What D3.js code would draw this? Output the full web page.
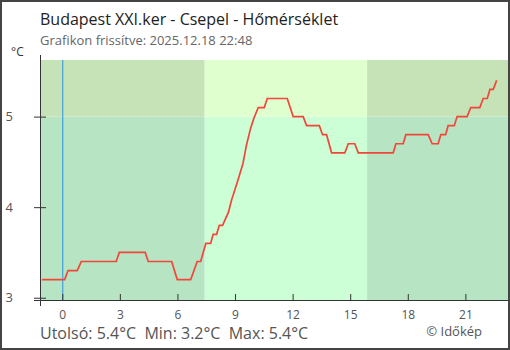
<!DOCTYPE html>
<html><head><meta charset="utf-8">
<script src="https://cdn.jsdelivr.net/npm/d3@7"></script>
<style>body{margin:0;background:#fff}svg{display:block}text{font-family:"Open Sans",sans-serif}</style>
</head><body>
<svg id="c" width="510" height="350"></svg>
<script>
const title = "Budapest XXI.ker - Csepel - Hőmérséklet";
const subtitle = "Grafikon frissítve: 2025.12.18 22:48";
const footer = "Utolsó: 5.4°C  Min: 3.2°C  Max: 5.4°C";
const credit = "© Időkép";
const unit = "°C";
const xTicks = [0, 3, 6, 9, 12, 15, 18, 21];
const yTicks = [3, 4, 5];
const xDomain = [-1.16, 23.22];
const yDomain = [2.975, 5.625];
const threshold = 5;
const midnight = 0;
// night / day bands (hours)
const bandStarts = [-1.16, 7.42, 15.88];
const bandEnds = [7.42, 15.88, 23.22];
const bandTypes = ["night", "day", "night"];
// temperature (hours since midnight, °C)
const hours = [-1.06,0.125,0.30,0.78,0.99,2.81,2.97,4.32,4.48,5.70,5.99,6.69,7.03,7.21,7.48,7.73,7.86,8.04,8.18,8.35,8.65,8.82,9.11,9.41,9.60,9.81,9.98,10.21,10.52,10.68,11.72,12.03,12.55,12.73,13.39,13.56,13.77,14.03,14.72,14.90,15.24,15.42,17.24,17.38,17.76,17.90,19.06,19.27,19.58,19.72,19.97,20.10,20.42,20.57,21.09,21.28,21.75,21.93,22.14,22.28,22.45,22.63];
const temps = [3.2,3.2,3.3,3.3,3.4,3.4,3.5,3.5,3.4,3.4,3.2,3.2,3.4,3.4,3.6,3.6,3.7,3.7,3.8,3.8,3.94,4.08,4.27,4.48,4.69,4.87,4.98,5.1,5.1,5.2,5.2,5.0,5.0,4.9,4.9,4.8,4.8,4.6,4.6,4.7,4.7,4.6,4.6,4.7,4.7,4.8,4.8,4.7,4.7,4.8,4.8,4.9,4.9,5.0,5.0,5.1,5.1,5.2,5.2,5.3,5.3,5.4];

const colors = {night:{low:"#b7e4c2", high:"#c6e3b7"}, day:{low:"#ccffd6", high:"#dfffcf"}};

const svg = d3.select("#c");
const L = 40, R = 508, T = 60, B = 300;
const x = d3.scaleLinear().domain(xDomain).range([L, R]);
const y = d3.scaleLinear().domain(yDomain).range([B, T]);

const bands = bandStarts.map((s,i)=>({s, e:bandEnds[i], t:bandTypes[i]}));
const g = svg.append("g");
g.selectAll("rect.lo").data(bands).join("rect")
  .attr("x", d=>x(d.s)).attr("width", d=>x(d.e)-x(d.s))
  .attr("y", y(threshold)).attr("height", B - y(threshold))
  .attr("fill", d=>colors[d.t].low);
g.selectAll("rect.hi").data(bands).join("rect")
  .attr("x", d=>x(d.s)).attr("width", d=>x(d.e)-x(d.s))
  .attr("y", T).attr("height", y(threshold) - T)
  .attr("fill", d=>colors[d.t].high);

// midnight line
svg.append("line").attr("x1", x(midnight)+0.5).attr("x2", x(midnight)+0.5)
  .attr("y1", T).attr("y2", B).attr("stroke", "#2a93e0").attr("stroke-width", 1);

// x axis
const xa = svg.append("g").attr("transform", `translate(0,${B})`)
  .call(d3.axisBottom(x).tickValues(xTicks).tickSizeInner(-6).tickSizeOuter(0).tickPadding(10));
xa.select(".domain").remove();
xa.selectAll(".tick line").attr("stroke", "#333");
xa.selectAll(".tick text").attr("fill", "#555").style("font-size", "12px").style("font-family", "Open Sans");

// y axis
const ya = svg.append("g").attr("transform", `translate(${L},0)`)
  .call(d3.axisLeft(y).tickValues(yTicks).tickFormat(d3.format("d")).tickSizeOuter(0));
ya.select(".domain").remove();
ya.selectAll(".tick line").attr("x1", -6).attr("x2", 6).attr("stroke", "#333");
ya.selectAll(".tick text").attr("x", -27).attr("text-anchor", "end").attr("fill", "#555")
  .style("font-size", "13px").style("font-family", "Open Sans");

svg.append("line").attr("x1", L+0.5).attr("x2", L+0.5).attr("y1", 55).attr("y2", 306).attr("stroke", "#333");
svg.append("line").attr("x1", 34).attr("x2", R).attr("y1", B+0.5).attr("y2", B+0.5).attr("stroke", "#333");

// data line
const pts = hours.map((h,i)=>[h, temps[i]]);
svg.append("path").datum(pts)
  .attr("d", d3.line().x(d=>x(d[0])).y(d=>y(d[1])))
  .attr("fill", "none").attr("stroke", "#f2463a").attr("stroke-width", 1.7);

// texts
svg.append("text").attr("x", 40).attr("y", 25).attr("fill", "#222").style("font-size", "16px").text(title);
svg.append("text").attr("x", 40).attr("y", 45).attr("fill", "#666").style("font-size", "13px").text(subtitle);
svg.append("text").attr("x", 11).attr("y", 56).attr("fill", "#333").style("font-size", "12px").text(unit);
svg.append("text").attr("x", 40).attr("y", 339).attr("fill", "#555").style("font-size", "16px")
  .style("white-space", "pre").text(footer);
svg.append("text").attr("x", 482).attr("y", 336).attr("text-anchor", "end").attr("fill", "#555")
  .style("font-size", "13px").text(credit);

// frame
svg.append("rect").attr("x", 1).attr("y", 1).attr("width", 508).attr("height", 348)
  .attr("fill", "none").attr("stroke", "#444").attr("stroke-width", 2);
</script>
</body></html>
